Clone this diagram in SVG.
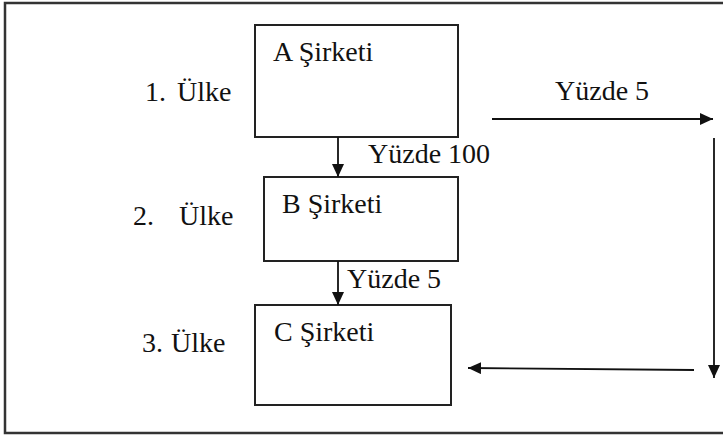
<svg xmlns="http://www.w3.org/2000/svg" width="723" height="436" viewBox="0 0 723 436">
<style>
text{font-family:"Liberation Serif",serif;font-size:28px;fill:#111}
.box{fill:#fff;stroke:#222;stroke-width:2}
.c{stroke:#111;stroke-width:1.8;fill:none}
.ah{fill:#111}
</style>
<defs>
<marker id="arr" markerWidth="14" markerHeight="12" refX="13" refY="6" orient="auto" markerUnits="userSpaceOnUse">
<path class="ah" d="M0,0 L13,6 L0,12 Z"/>
</marker>
</defs>
<rect width="723" height="436" fill="#fff"/>
<path d="M723,3 H5 V433 H723" fill="none" stroke="#333" stroke-width="2.5"/>
<g id="labels">
<text y="101"><tspan x="145">1.</tspan><tspan x="177">Ülke</tspan></text>
<text y="225"><tspan x="133">2.</tspan><tspan x="179">Ülke</tspan></text>
<text y="352"><tspan x="142">3.</tspan><tspan x="171">Ülke</tspan></text>
</g>
<g id="nodeA">
<rect class="box" x="255" y="25" width="203" height="112"/>
<text x="273" y="61">A Şirketi</text>
</g>
<g id="nodeB">
<rect class="box" x="264" y="177" width="194" height="84"/>
<text x="282" y="213">B Şirketi</text>
</g>
<g id="nodeC">
<rect class="box" x="255" y="305" width="196" height="100"/>
<text x="274" y="341">C Şirketi</text>
</g>
<g id="connectors">
<line class="c" x1="338" y1="137" x2="338" y2="177" marker-end="url(#arr)"/>
<text x="368" y="163">Yüzde 100</text>
<line class="c" x1="338" y1="261" x2="338" y2="305" marker-end="url(#arr)"/>
<text x="347" y="288">Yüzde 5</text>
<line class="c" x1="492" y1="119" x2="713" y2="119" marker-end="url(#arr)"/>
<text x="555" y="100">Yüzde 5</text>
<line class="c" x1="714" y1="138" x2="714" y2="378" marker-end="url(#arr)"/>
<line class="c" x1="694" y1="370" x2="468" y2="368" marker-end="url(#arr)"/>
</g>
</svg>
